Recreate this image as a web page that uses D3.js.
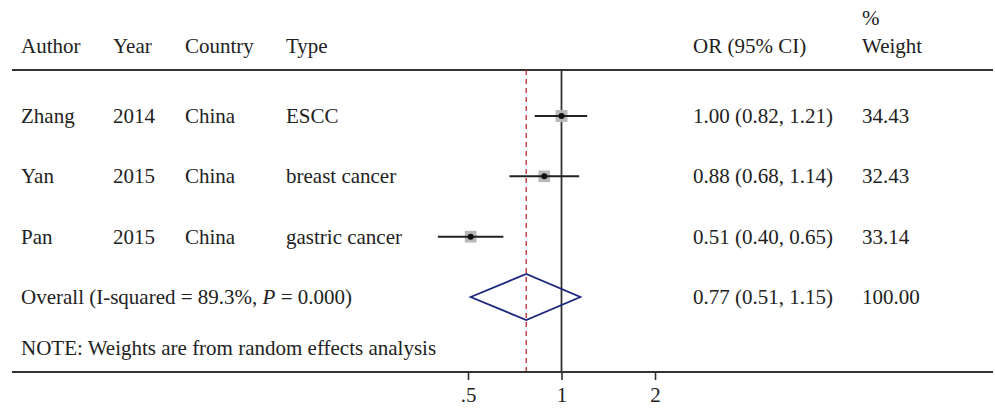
<!DOCTYPE html>
<html>
<head>
  <script src="https://cdn.jsdelivr.net/npm/d3@7"></script>
  <style>
    body { margin: 0; background: #fff; }
    text { font-family: "Liberation Serif", "Times New Roman", serif; font-size: 21px; fill: #222; }
  </style>
</head>
<body>
  <div id="chart"></div>
  <script>
    // study rows
    const authors = ["Zhang", "Yan", "Pan"]
    const years = ["2014", "2015", "2015"]
    const countries = ["China", "China", "China"]
    const types = ["ESCC", "breast cancer", "gastric cancer"]
    const or = [1.00, 0.88, 0.51]
    const lower = [0.82, 0.68, 0.40]
    const upper = [1.21, 1.14, 0.65]
    const weights = [34.43, 32.43, 33.14]

    // pooled estimate
    const overall = { or: 0.77, lower: 0.51, upper: 1.15, weight: 100.00 }
    const overallLabel = "Overall (I-squared = 89.3%, "
    const noteLabel = "NOTE: Weights are from random effects analysis"

    const tickValues = [0.5, 1, 2]
    const tickLabels = [".5", "1", "2"]

    const width = 995
    const height = 408

    const svg = d3.select("#chart")
      .append("svg")
      .attr("width", width)
      .attr("height", height)

    const x = d3.scaleLog().domain([0.5, 2]).range([468, 655])
    const rowY = d3.scalePoint().domain(d3.range(4)).range([116, 297])

    const headerY = 70
    const axisY = 372
    const col = { author: 21, year: 113, country: 185, type: 286, ci: 693, weight: 862 }

    // header
    const head = svg.append("g")
    head.append("text").attr("x", col.author).attr("y", 53).text("Author")
    head.append("text").attr("x", col.year).attr("y", 53).text("Year")
    head.append("text").attr("x", col.country).attr("y", 53).text("Country")
    head.append("text").attr("x", col.type).attr("y", 53).text("Type")
    head.append("text").attr("x", col.ci).attr("y", 53).text("OR (95% CI)")
    head.append("text").attr("x", col.weight).attr("y", 25).text("%")
    head.append("text").attr("x", col.weight).attr("y", 53).text("Weight")

    svg.append("line")
      .attr("x1", 12).attr("x2", 993)
      .attr("y1", headerY).attr("y2", headerY)
      .attr("stroke", "#333").attr("stroke-width", 2)

    // reference lines
    svg.append("line")
      .attr("x1", x(1)).attr("x2", x(1))
      .attr("y1", headerY).attr("y2", axisY)
      .attr("stroke", "#333").attr("stroke-width", 1.8)

    svg.append("line")
      .attr("x1", x(overall.or)).attr("x2", x(overall.or))
      .attr("y1", headerY).attr("y2", axisY)
      .attr("stroke", "#c0393f").attr("stroke-width", 1.4)
      .attr("stroke-dasharray", "5,4")

    // study rows
    const rows = svg.append("g")
      .selectAll("g")
      .data(authors)
      .join("g")
      .attr("transform", (d, i) => `translate(0,${rowY(i)})`)

    rows.append("text").attr("x", col.author).attr("y", 7).text(d => d)
    rows.append("text").attr("x", col.year).attr("y", 7).text((d, i) => years[i])
    rows.append("text").attr("x", col.country).attr("y", 7).text((d, i) => countries[i])
    rows.append("text").attr("x", col.type).attr("y", 7).text((d, i) => types[i])
    rows.append("text").attr("x", col.ci).attr("y", 7)
      .text((d, i) => `${or[i].toFixed(2)} (${lower[i].toFixed(2)}, ${upper[i].toFixed(2)})`)
    rows.append("text").attr("x", col.weight).attr("y", 7).text((d, i) => weights[i].toFixed(2))

    const box = d3.scaleSqrt().domain([0, 35]).range([0, 12])
    rows.append("rect")
      .attr("x", (d, i) => x(or[i]) - box(weights[i]) / 2)
      .attr("y", (d, i) => -box(weights[i]) / 2)
      .attr("width", (d, i) => box(weights[i]))
      .attr("height", (d, i) => box(weights[i]))
      .attr("fill", "#b8b8b8")
    rows.append("line")
      .attr("x1", (d, i) => x(lower[i])).attr("x2", (d, i) => x(upper[i]))
      .attr("stroke", "#222").attr("stroke-width", 2)
    rows.append("circle")
      .attr("cx", (d, i) => x(or[i]))
      .attr("r", 3)
      .attr("fill", "#111")

    // overall diamond
    const oy = rowY(3)
    svg.append("path")
      .attr("d", d3.line()([
        [x(overall.lower), oy], [x(overall.or), oy - 23],
        [x(overall.upper), oy], [x(overall.or), oy + 23]
      ]) + "Z")
      .attr("fill", "none")
      .attr("stroke", "#1c2580").attr("stroke-width", 1.8)

    const ot = svg.append("text").attr("x", col.author).attr("y", oy + 7)
    ot.append("tspan").text(overallLabel)
    ot.append("tspan").attr("font-style", "italic").text("P")
    ot.append("tspan").text(" = 0.000)")
    svg.append("text").attr("x", col.ci).attr("y", oy + 7)
      .text(`${overall.or.toFixed(2)} (${overall.lower.toFixed(2)}, ${overall.upper.toFixed(2)})`)
    svg.append("text").attr("x", col.weight).attr("y", oy + 7).text(overall.weight.toFixed(2))

    svg.append("text").attr("x", col.author).attr("y", 355).text(noteLabel)

    // bottom axis
    svg.append("line")
      .attr("x1", 12).attr("x2", 993)
      .attr("y1", axisY).attr("y2", axisY)
      .attr("stroke", "#333").attr("stroke-width", 2)

    const axis = svg.append("g")
      .attr("transform", `translate(0,${axisY})`)
      .call(d3.axisBottom(x).tickValues(tickValues).tickFormat((d, i) => tickLabels[i]).tickSize(8).tickPadding(7))
    axis.select(".domain").remove()
    axis.selectAll(".tick line").attr("stroke", "#333").attr("stroke-width", 1.6)
    axis.selectAll(".tick text")
      .attr("font-family", null).attr("font-size", null)
      .style("font-size", "21px").style("fill", "#222")
  </script>
</body>
</html>
